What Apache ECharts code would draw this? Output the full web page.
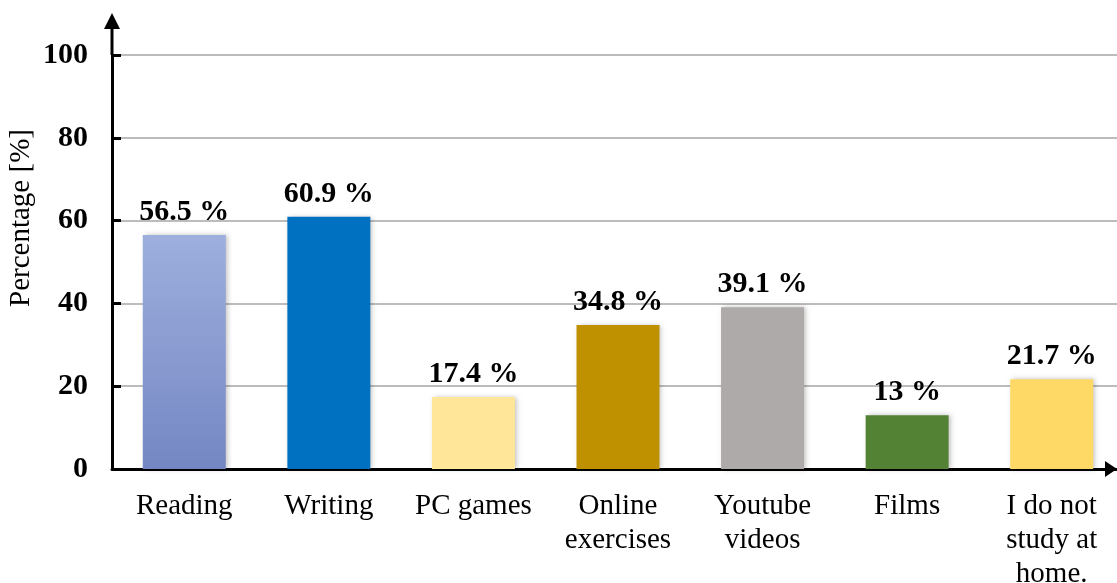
<!DOCTYPE html>
<html>
<head>
<meta charset="utf-8">
<script src="https://cdn.jsdelivr.net/npm/echarts@6/dist/echarts.min.js"></script>
<style>
  html, body { margin: 0; padding: 0; background: #fff; }
  #chart { width: 1117px; height: 583px; }
</style>
</head>
<body>
<div id="chart"></div>
<script>
const categories = ["Reading", "Writing", "PC games", "Online\nexercises", "Youtube\nvideos", "Films", "I do not\nstudy at\nhome."];
const percentages = [56.5, 60.9, 17.4, 34.8, 39.1, 13, 21.7];
const barColors = ["#8799cf", "#0070c0", "#ffe699", "#bf9000", "#aeaaaa", "#548235", "#ffd966"];
const yTicks = [0, 20, 40, 60, 80, 100];

const FONT = '"Liberation Serif", "Times New Roman", serif';
const GRID_LEFT = 112;
const GRID_TOP = 55;
const GRID_BOTTOM = 114;

const chart = echarts.init(document.getElementById("chart"));

const barData = percentages.map((v, i) => ({
  value: v,
  itemStyle: {
    color: i === 0
      ? new echarts.graphic.LinearGradient(0, 0, 0, 1, [
          { offset: 0, color: "#9dafdd" },
          { offset: 1, color: "#7587c3" },
        ])
      : barColors[i],
  },
}));

const axisBottom = 583 - GRID_BOTTOM;

chart.setOption({
  animation: false,
  grid: {
    left: GRID_LEFT,
    right: -7,
    top: GRID_TOP,
    bottom: GRID_BOTTOM,
    containLabel: false,
    outerBoundsMode: "none",
  },
  xAxis: {
    type: "category",
    data: categories,
    axisLine: { show: true, lineStyle: { color: "#000", width: 3 } },
    axisTick: { show: false },
    axisLabel: {
      color: "#000",
      fontFamily: FONT,
      fontSize: 29,
      lineHeight: 34,
      margin: 20,
      interval: 0,
    },
    splitLine: { show: false },
  },
  yAxis: {
    type: "value",
    min: yTicks[0],
    max: yTicks[yTicks.length - 1],
    interval: 20,
    name: "Percentage [%]",
    nameLocation: "middle",
    nameGap: 76,
    nameMoveOverlap: false,
    nameRotate: 90,
    nameTextStyle: {
      color: "#000",
      fontFamily: FONT,
      fontSize: 29,
      padding: [0, 0, 0, 88],
    },
    axisLine: { show: true, lineStyle: { color: "#000", width: 3 } },
    axisTick: { show: true, inside: true, length: 9, lineStyle: { color: "#000", width: 3 } },
    axisLabel: {
      color: "#000",
      fontFamily: FONT,
      fontSize: 30,
      fontWeight: "bold",
      margin: 24,
    },
    splitLine: { show: true, lineStyle: { color: "#a6a6a6", width: 1.5 } },
  },
  series: [
    {
      type: "bar",
      data: barData,
      barWidth: "57.4%",
      itemStyle: {
        shadowBlur: 5,
        shadowColor: "rgba(0,0,0,0.25)",
        shadowOffsetX: 2,
      },
      label: {
        show: true,
        position: "top",
        distance: 8,
        formatter: "{c} %",
        color: "#000",
        fontFamily: FONT,
        fontSize: 30,
        fontWeight: "bold",
      },
    },
  ],
  graphic: [
    // y axis extension and arrow head
    {
      type: "line",
      shape: { x1: GRID_LEFT, y1: GRID_TOP, x2: GRID_LEFT, y2: 26 },
      style: { stroke: "#000", lineWidth: 3 },
    },
    {
      type: "polygon",
      shape: { points: [[GRID_LEFT, 13], [GRID_LEFT - 8, 29], [GRID_LEFT + 8, 29]] },
      style: { fill: "#000" },
    },
    // x axis arrow head
    {
      type: "polygon",
      shape: { points: [[1117, axisBottom], [1105, axisBottom - 8], [1105, axisBottom + 8]] },
      style: { fill: "#000" },
    },
  ],
});
</script>
</body>
</html>
